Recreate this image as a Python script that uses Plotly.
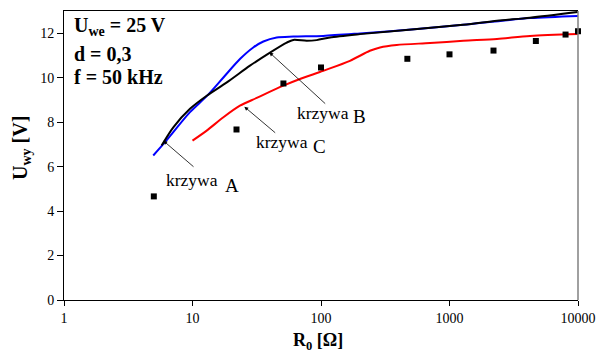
import math
import plotly.graph_objects as go

# ---- data ----
blue_R = [4.95, 6.11, 9.56, 12.9, 17.4, 23.4, 29.7, 35.6, 45.2, 60.9, 104, 201, 589, 1274, 4230, 10000]
blue_U = [6.50, 7.10, 8.45, 9.17, 10.01, 10.84, 11.36, 11.63, 11.81, 11.85, 11.88, 11.99, 12.20, 12.38, 12.68, 12.78]

black_R = [5.75, 7.09, 9.56, 12.9, 18.5, 28.0, 40.1, 54.1, 60.9, 77.4, 92.6, 117.5, 201, 1274, 2342, 4230, 10000]
black_U = [6.95, 7.77, 8.60, 9.19, 9.79, 10.54, 11.13, 11.58, 11.70, 11.66, 11.69, 11.81, 11.96, 12.38, 12.56, 12.70, 12.96]

red_R = [10.0, 12.9, 17.4, 23.4, 31.6, 50.9, 68.6, 104, 168, 240, 288, 388, 705, 1280, 2342, 4230, 10000]
red_U = [7.17, 7.62, 8.22, 8.74, 9.09, 9.64, 9.94, 10.31, 10.76, 11.21, 11.36, 11.47, 11.56, 11.66, 11.74, 11.88, 11.96]

meas_R = [5, 22, 51, 100, 470, 1000, 2200, 4700, 8000, 10000]
meas_U = [4.66, 7.67, 9.74, 10.46, 10.85, 11.05, 11.22, 11.65, 11.94, 12.09]

x_ticks = [1, 10, 100, 1000, 10000]
x_tick_labels = ["1", "10", "100", "1000", "10000"]
y_ticks = [0, 2, 4, 6, 8, 10, 12]

FONT = "Liberation Serif, Times New Roman, serif"

# layout geometry (pixels)
W, H = 598, 352
L, R, T, B = 64, 578, 11, 300
XMIN, XMAX = 0, 4        # log10
YMIN, YMAX = 0, 13


def px2x(px):
    return XMIN + (px - L) / (R - L) * (XMAX - XMIN)


def py2y(py):
    return YMIN + (B - py) / (B - T) * (YMAX - YMIN)


def px2paper(px):
    return (px - L) / (R - L)


def py2paper(py):
    return (B - py) / (B - T)


fig = go.Figure()
fig.add_trace(go.Scatter(x=red_R, y=red_U, mode="lines",
                         line=dict(color="#ff0000", width=2, shape="spline", smoothing=0.8)))
fig.add_trace(go.Scatter(x=blue_R, y=blue_U, mode="lines",
                         line=dict(color="#0000ff", width=2, shape="spline", smoothing=0.8)))
fig.add_trace(go.Scatter(x=black_R, y=black_U, mode="lines",
                         line=dict(color="#000000", width=2, shape="spline", smoothing=0.8)))
fig.add_trace(go.Scatter(x=meas_R, y=meas_U, mode="markers", cliponaxis=False,
                         marker=dict(symbol="square", size=6, color="#000000")))

annotations = []
# info text
for txt, py in [("U<sub>we</sub> = 25 V", 26), ("d = 0,3", 54), ("f = 50 kHz", 77)]:
    annotations.append(dict(x=px2paper(72), y=py2paper(py), xref="paper", yref="paper",
                            text="<b>" + txt + "</b>",
                            showarrow=False, xanchor="left", yanchor="middle",
                            font=dict(family=FONT, size=20, color="black")))

# curve labels
labels = [("krzywa", "A", 191.5, 180, 231.5, 185, (163.3, 140.7), (195, 168)),
          ("krzywa", "B", 322.5, 113, 359, 117, (269.3, 52.3), (326.7, 105)),
          ("krzywa", "C", 282, 142, 319.5, 146, (244.3, 106.7), (276.7, 134))]
for word, letter, wx, wy, lx, ly, head, tail in labels:
    annotations.append(dict(x=px2paper(wx), y=py2paper(wy), xref="paper", yref="paper", text=word,
                            showarrow=False, xanchor="center", yanchor="middle",
                            font=dict(family=FONT, size=17.5, color="black")))
    annotations.append(dict(x=px2paper(lx), y=py2paper(ly), xref="paper", yref="paper", text=letter,
                            showarrow=False, xanchor="center", yanchor="middle",
                            font=dict(family=FONT, size=19, color="black")))
    annotations.append(dict(x=px2x(head[0]), y=py2y(head[1]), xref="x", yref="y", text="",
                            showarrow=True, arrowhead=2, arrowsize=1, arrowwidth=0.8,
                            arrowcolor="black", ax=tail[0] - head[0], ay=tail[1] - head[1],
                            standoff=0))

# axis titles
annotations.append(dict(x=px2paper(318), y=py2paper(341), xref="paper", yref="paper",
                        text="<b>R<sub>0</sub> [Ω]</b>",
                        showarrow=False, xanchor="center", yanchor="middle",
                        font=dict(family=FONT, size=18, color="black")))
annotations.append(dict(x=px2paper(21), y=py2paper(148), xref="paper", yref="paper",
                        text="<b>U<sub>wy</sub> [V]</b>",
                        showarrow=False, textangle=-90, xanchor="center", yanchor="middle",
                        font=dict(family=FONT, size=20, color="black")))

fig.update_layout(
    width=W, height=H,
    autosize=False,
    margin=dict(l=L, r=W - R, t=T, b=H - B, pad=0, autoexpand=False),
    paper_bgcolor="white", plot_bgcolor="white",
    showlegend=False,
    annotations=annotations,
    font=dict(family=FONT, size=14, color="black"),
    xaxis=dict(type="log", range=[XMIN, XMAX], tickvals=x_ticks, ticktext=x_tick_labels,
               automargin=False,
               showgrid=False, zeroline=False, showline=True, linecolor="black", linewidth=1,
               mirror=True, ticks="outside", ticklen=5, tickcolor="black", tickwidth=1,
               tickfont=dict(family=FONT, size=14, color="black")),
    yaxis=dict(range=[YMIN, YMAX], tickvals=y_ticks, showgrid=False, zeroline=False,
               automargin=False,
               showline=True, linecolor="black", linewidth=1, ticks="outside", ticklen=6,
               tickcolor="black", tickwidth=1,
               tickfont=dict(family=FONT, size=14, color="black")),
    shapes=[dict(type="line", xref="paper", yref="paper", x0=1, x1=1, y0=0, y1=1,
                 line=dict(color="#808080", width=1.5))],
)

fig.write_html("out.html", config={"displayModeBar": False},
               post_script="document.body.style.margin='0';")
